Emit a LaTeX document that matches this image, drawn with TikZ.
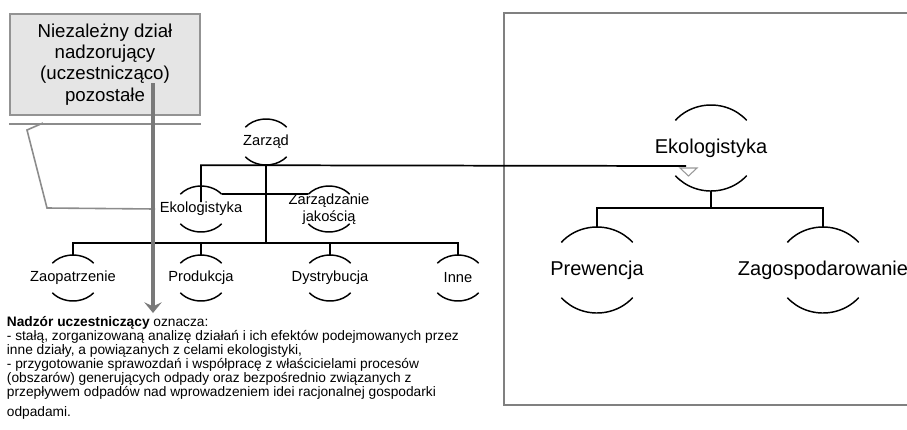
\documentclass[tikz,border=0pt]{standalone}
\usepackage{fontspec}
\setmainfont{Liberation Sans}
\usetikzlibrary{arrows.meta}

\begin{document}
\begin{tikzpicture}[x=0.75pt, y=-0.75pt,
    unit/.style={circle, minimum size=34.5pt, inner sep=0pt},
    bigunit/.style={circle, minimum size=64.5pt, inner sep=0pt},
    lbl/.style={font=\fontsize{11}{12.5}\selectfont, align=center},
    biglbl/.style={font=\fontsize{15}{17}\selectfont},
    arcline/.style={line width=1.1pt},
    tree/.style={line width=1.3pt},
    callbox/.style={draw=gray!85, line width=1.5pt, fill=gray!20, minimum width=142.5pt,
        minimum height=75.75pt, align=center, font=\fontsize{14}{16}\selectfont},
    pointer/.style={draw=gray!90, line width=1.2pt},
    supervise/.style={draw=gray!95!black, line width=3pt, -{Stealth[length=8pt, width=13pt, inset=3pt]}},
    note/.style={font=\fontsize{10.3}{10.5}\selectfont, align=left, inner sep=2pt}]
    \useasboundingbox (0,0) rectangle (907,429);

    \draw[draw=gray, line width=1pt] (504,13) rectangle (940,405);

    \node[unit, label={[lbl]center:Zarząd}] (zarzad) at (266,142) {};
    \node[unit, label={[lbl, name=ekoL]center:Ekologistyka}] (eko) at (201,209) {};
    \node[unit, label={[lbl]center:Zarządzanie\\jakością}] (zj) at (329,209) {};
    \node[unit, label={[lbl]center:Zaopatrzenie}] (zaop) at (73,278) {};
    \node[unit, label={[lbl]center:Produkcja}] (prod) at (201,278) {};
    \node[unit, label={[lbl]center:Dystrybucja}] (dystr) at (330,278) {};
    \node[unit, label={[lbl]center:Inne}] (inne) at (458,278) {};

    \node[bigunit, label={[biglbl]center:Ekologistyka}] (ekoR) at (711,148) {};
    \node[bigunit, label={[biglbl]center:Prewencja}] (prew) at (597,270) {};
    \node[bigunit, label={[biglbl]center:Zagospodarowanie}] (zagosp) at (823,270) {};

    \foreach \n/\ra/\rb in {zarzad/20.25pt/17.25pt, eko/20.25pt/17.25pt, zj/20.25pt/17.25pt,
                            zaop/20.25pt/17.25pt, prod/20.25pt/17.25pt, dystr/20.25pt/17.25pt,
                            inne/20.25pt/17.25pt, ekoR/34.9pt/32.25pt, prew/34.9pt/32.25pt,
                            zagosp/34.9pt/32.25pt} {
        \draw[arcline] ([shift={(40:{\ra} and {\rb})}]\n.center) arc[start angle=40, end angle=140, x radius=\ra, y radius=\rb];
        \draw[arcline] ([shift={(220:{\ra} and {\rb})}]\n.center) arc[start angle=220, end angle=320, x radius=\ra, y radius=\rb];
    }

    \coordinate (tip) at (686,166);
    \draw[tree] (zarzad.south) -- ++(0,78) coordinate (hub);
    \foreach \n in {zaop, prod, dystr, inne}
        \draw[tree] (hub) -| (\n.north);
    \draw[tree] (eko.center) ++(0,-7) |- (zarzad.south) -- (tip);
    \draw[tree] ([shift={(40:20.25pt and 17.25pt)}]eko.center) -- ([shift={(140:20.25pt and 17.25pt)}]zj.center);
    \draw[draw=gray!80, line width=0.8pt, fill=white] (tip) ++(-6,2) -- ++(17,0) -- ++(-8.5,8) -- cycle;

    \draw[tree] (ekoR.south) -- ++(0,17) coordinate (rhub);
    \foreach \n in {prew, zagosp}
        \draw[tree] (rhub) -| (\n.north);

    \node[callbox] (nadzor) at (105,64.5) {Niezależny dział\\nadzorujący\\(uczestnicząco)\\pozostałe};
    \draw[pointer] ([yshift=-6pt]nadzor.south west) -- ([yshift=-6pt]nadzor.south east);
    \draw[pointer] (43,123) -- (27,130) -- (47,208) -- (ekoL.west);

    \node[note, anchor=north west] (note) at (4,313) {\textbf{Nadzór uczestniczący} oznacza:\\
        - stałą, zorganizowaną analizę działań i ich efektów podejmowanych przez\\
        inne działy, a powiązanych z celami ekologistyki,\\
        - przygotowanie sprawozdań i współpracę z właścicielami procesów\\
        (obszarów) generujących odpady oraz bezpośrednio związanych z\\
        przepływem odpadów nad wprowadzeniem idei racjonalnej gospodarki\\[5pt]
        odpadami.};

    \coordinate (src) at (153,83);
    \draw[supervise] (src) -- (src |- note.north);
\end{tikzpicture}
\end{document}
